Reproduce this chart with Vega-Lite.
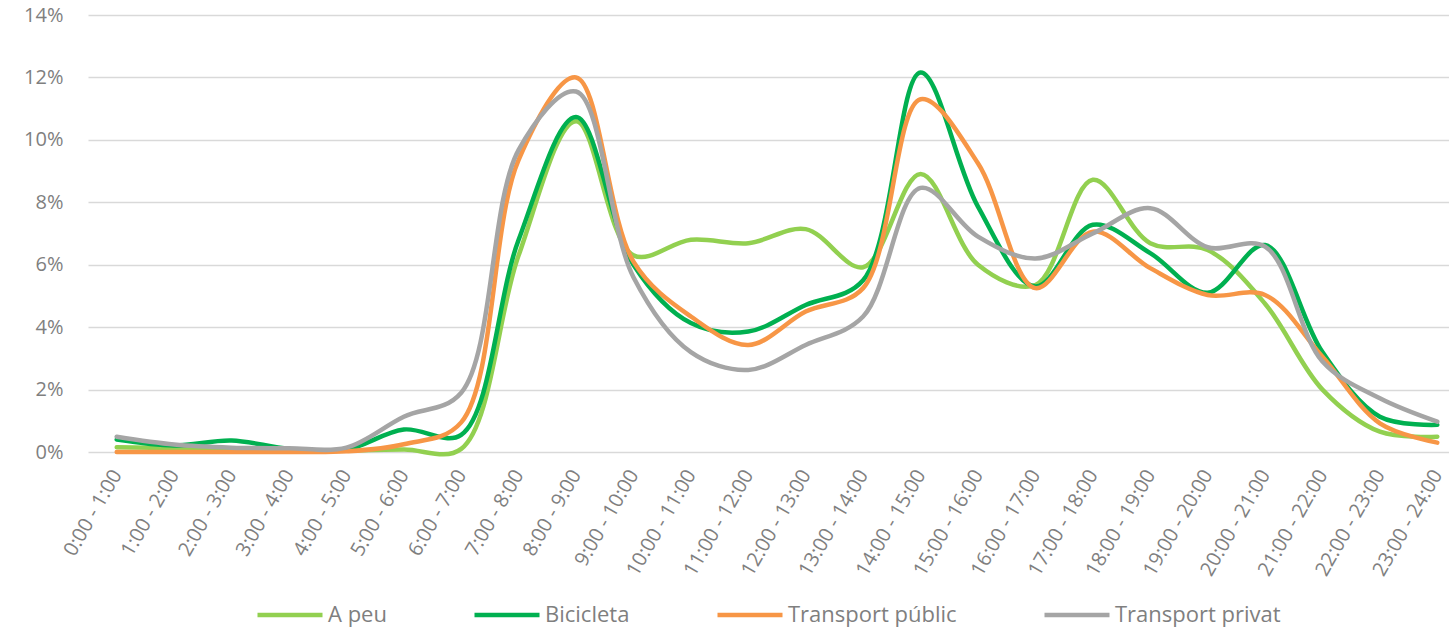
{
  "$schema": "https://vega.github.io/schema/vega-lite/v6.json",
  "autosize": "none",
  "padding": {"left": 88, "top": 15, "right": 0, "bottom": 177},
  "width": 1378,
  "height": 437,
  "background": "white",
  "data": {"values": [
    {"h": "0:00 - 1:00", "s": "A peu", "v": 0.0015},
    {"h": "1:00 - 2:00", "s": "A peu", "v": 0.0012},
    {"h": "2:00 - 3:00", "s": "A peu", "v": 0.0006},
    {"h": "3:00 - 4:00", "s": "A peu", "v": 0.0005},
    {"h": "4:00 - 5:00", "s": "A peu", "v": 0.0005},
    {"h": "5:00 - 6:00", "s": "A peu", "v": 0.0008},
    {"h": "6:00 - 7:00", "s": "A peu", "v": 0.001},
    {"h": "7:00 - 8:00", "s": "A peu", "v": 0.063},
    {"h": "8:00 - 9:00", "s": "A peu", "v": 0.106},
    {"h": "9:00 - 10:00", "s": "A peu", "v": 0.063},
    {"h": "10:00 - 11:00", "s": "A peu", "v": 0.068},
    {"h": "11:00 - 12:00", "s": "A peu", "v": 0.0669},
    {"h": "12:00 - 13:00", "s": "A peu", "v": 0.0714},
    {"h": "13:00 - 14:00", "s": "A peu", "v": 0.0592},
    {"h": "14:00 - 15:00", "s": "A peu", "v": 0.0891},
    {"h": "15:00 - 16:00", "s": "A peu", "v": 0.06},
    {"h": "16:00 - 17:00", "s": "A peu", "v": 0.0535},
    {"h": "17:00 - 18:00", "s": "A peu", "v": 0.0872},
    {"h": "18:00 - 19:00", "s": "A peu", "v": 0.0669},
    {"h": "19:00 - 20:00", "s": "A peu", "v": 0.0647},
    {"h": "20:00 - 21:00", "s": "A peu", "v": 0.0475},
    {"h": "21:00 - 22:00", "s": "A peu", "v": 0.02},
    {"h": "22:00 - 23:00", "s": "A peu", "v": 0.0065},
    {"h": "23:00 - 24:00", "s": "A peu", "v": 0.0049},
    {"h": "0:00 - 1:00", "s": "Bicicleta", "v": 0.004},
    {"h": "1:00 - 2:00", "s": "Bicicleta", "v": 0.0021},
    {"h": "2:00 - 3:00", "s": "Bicicleta", "v": 0.0037},
    {"h": "3:00 - 4:00", "s": "Bicicleta", "v": 0.001},
    {"h": "4:00 - 5:00", "s": "Bicicleta", "v": 0.0008},
    {"h": "5:00 - 6:00", "s": "Bicicleta", "v": 0.0072},
    {"h": "6:00 - 7:00", "s": "Bicicleta", "v": 0.0055},
    {"h": "7:00 - 8:00", "s": "Bicicleta", "v": 0.068},
    {"h": "8:00 - 9:00", "s": "Bicicleta", "v": 0.1073},
    {"h": "9:00 - 10:00", "s": "Bicicleta", "v": 0.06},
    {"h": "10:00 - 11:00", "s": "Bicicleta", "v": 0.0413},
    {"h": "11:00 - 12:00", "s": "Bicicleta", "v": 0.0386},
    {"h": "12:00 - 13:00", "s": "Bicicleta", "v": 0.0471},
    {"h": "13:00 - 14:00", "s": "Bicicleta", "v": 0.055},
    {"h": "14:00 - 15:00", "s": "Bicicleta", "v": 0.1216},
    {"h": "15:00 - 16:00", "s": "Bicicleta", "v": 0.0786},
    {"h": "16:00 - 17:00", "s": "Bicicleta", "v": 0.053},
    {"h": "17:00 - 18:00", "s": "Bicicleta", "v": 0.0728},
    {"h": "18:00 - 19:00", "s": "Bicicleta", "v": 0.0637},
    {"h": "19:00 - 20:00", "s": "Bicicleta", "v": 0.051},
    {"h": "20:00 - 21:00", "s": "Bicicleta", "v": 0.0663},
    {"h": "21:00 - 22:00", "s": "Bicicleta", "v": 0.032},
    {"h": "22:00 - 23:00", "s": "Bicicleta", "v": 0.0113},
    {"h": "23:00 - 24:00", "s": "Bicicleta", "v": 0.0087},
    {"h": "0:00 - 1:00", "s": "Transport públic", "v": 0.0},
    {"h": "1:00 - 2:00", "s": "Transport públic", "v": 0.0},
    {"h": "2:00 - 3:00", "s": "Transport públic", "v": 0.0},
    {"h": "3:00 - 4:00", "s": "Transport públic", "v": 0.0},
    {"h": "4:00 - 5:00", "s": "Transport públic", "v": 0.0002},
    {"h": "5:00 - 6:00", "s": "Transport públic", "v": 0.0025},
    {"h": "6:00 - 7:00", "s": "Transport públic", "v": 0.0095},
    {"h": "7:00 - 8:00", "s": "Transport públic", "v": 0.0936},
    {"h": "8:00 - 9:00", "s": "Transport públic", "v": 0.12},
    {"h": "9:00 - 10:00", "s": "Transport públic", "v": 0.061},
    {"h": "10:00 - 11:00", "s": "Transport públic", "v": 0.0434},
    {"h": "11:00 - 12:00", "s": "Transport públic", "v": 0.0343},
    {"h": "12:00 - 13:00", "s": "Transport públic", "v": 0.045},
    {"h": "13:00 - 14:00", "s": "Transport públic", "v": 0.0525},
    {"h": "14:00 - 15:00", "s": "Transport públic", "v": 0.113},
    {"h": "15:00 - 16:00", "s": "Transport públic", "v": 0.0925},
    {"h": "16:00 - 17:00", "s": "Transport públic", "v": 0.0525},
    {"h": "17:00 - 18:00", "s": "Transport públic", "v": 0.0706},
    {"h": "18:00 - 19:00", "s": "Transport públic", "v": 0.0589},
    {"h": "19:00 - 20:00", "s": "Transport públic", "v": 0.0503},
    {"h": "20:00 - 21:00", "s": "Transport públic", "v": 0.0503},
    {"h": "21:00 - 22:00", "s": "Transport públic", "v": 0.0305},
    {"h": "22:00 - 23:00", "s": "Transport públic", "v": 0.0092},
    {"h": "23:00 - 24:00", "s": "Transport públic", "v": 0.003},
    {"h": "0:00 - 1:00", "s": "Transport privat", "v": 0.0049},
    {"h": "1:00 - 2:00", "s": "Transport privat", "v": 0.0024},
    {"h": "2:00 - 3:00", "s": "Transport privat", "v": 0.0014},
    {"h": "3:00 - 4:00", "s": "Transport privat", "v": 0.0012},
    {"h": "4:00 - 5:00", "s": "Transport privat", "v": 0.0014},
    {"h": "5:00 - 6:00", "s": "Transport privat", "v": 0.0113},
    {"h": "6:00 - 7:00", "s": "Transport privat", "v": 0.019},
    {"h": "7:00 - 8:00", "s": "Transport privat", "v": 0.0968},
    {"h": "8:00 - 9:00", "s": "Transport privat", "v": 0.1155},
    {"h": "9:00 - 10:00", "s": "Transport privat", "v": 0.056},
    {"h": "10:00 - 11:00", "s": "Transport privat", "v": 0.032},
    {"h": "11:00 - 12:00", "s": "Transport privat", "v": 0.0263},
    {"h": "12:00 - 13:00", "s": "Transport privat", "v": 0.0343},
    {"h": "13:00 - 14:00", "s": "Transport privat", "v": 0.0434},
    {"h": "14:00 - 15:00", "s": "Transport privat", "v": 0.0846},
    {"h": "15:00 - 16:00", "s": "Transport privat", "v": 0.069},
    {"h": "16:00 - 17:00", "s": "Transport privat", "v": 0.062},
    {"h": "17:00 - 18:00", "s": "Transport privat", "v": 0.07},
    {"h": "18:00 - 19:00", "s": "Transport privat", "v": 0.0781},
    {"h": "19:00 - 20:00", "s": "Transport privat", "v": 0.0656},
    {"h": "20:00 - 21:00", "s": "Transport privat", "v": 0.0658},
    {"h": "21:00 - 22:00", "s": "Transport privat", "v": 0.029},
    {"h": "22:00 - 23:00", "s": "Transport privat", "v": 0.0172},
    {"h": "23:00 - 24:00", "s": "Transport privat", "v": 0.0097}
  ]},
  "mark": {"type": "line", "interpolate": "catmull-rom", "strokeWidth": 4.5, "strokeCap": "round", "strokeJoin": "round"},
  "encoding": {
    "x": {
      "field": "h", "type": "ordinal", "sort": null,
      "scale": {"type": "point", "padding": 0.5},
      "axis": {
        "title": null, "labelAngle": -60, "labelAlign": "right", "labelBaseline": "middle",
        "labelPadding": 19, "labelFont": "Open Sans", "labelFontSize": 20, "labelColor": "#7f7f7f",
        "ticks": false, "domain": false, "grid": false, "labelOverlap": false
      }
    },
    "y": {
      "field": "v", "type": "quantitative",
      "scale": {"domain": [0, 0.14], "nice": false},
      "axis": {
        "title": null, "format": ".0%", "values": [0, 0.02, 0.04, 0.06, 0.08, 0.1, 0.12, 0.14],
        "labelFont": "Open Sans", "labelFontSize": 20, "labelColor": "#7f7f7f", "labelPadding": 25,
        "ticks": false, "domain": false, "grid": true, "gridColor": "#d9d9d9", "gridWidth": 1.3
      }
    },
    "color": {
      "field": "s", "type": "nominal",
      "scale": {
        "domain": ["A peu", "Bicicleta", "Transport públic", "Transport privat"],
        "range": ["#92d050", "#00b050", "#f79646", "#a5a5a5"]
      },
      "legend": {
        "title": null, "orient": "none", "legendX": 167, "legendY": 565,
        "direction": "horizontal", "columns": 4, "columnPadding": 78,
        "symbolType": "stroke", "symbolSize": 4225, "symbolStrokeWidth": 4.5,
        "labelFont": "Open Sans", "labelFontSize": 22, "labelColor": "#7f7f7f", "labelOffset": 3,
        "labelLimit": 0
      }
    }
  },
  "config": {"view": {"stroke": null}}
}
